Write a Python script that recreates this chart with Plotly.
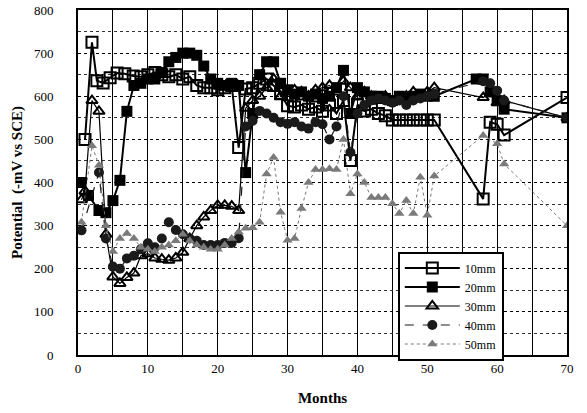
import plotly.graph_objects as go

# ---- data (months, potential -mV vs SCE) ----
m10 = [1, 2, 2.7, 3.6, 4.6, 5.6, 6.7, 7.9, 9, 10, 11, 12, 13, 14, 15, 16, 17, 18, 19, 20, 21, 22, 23,
       24, 25, 26, 27, 28, 29, 30, 31, 32, 33, 34, 35, 36, 37, 38, 39, 40, 41, 42, 43, 44, 45, 46,
       47, 48, 49, 50, 51, 58, 59, 60, 61, 70]
v10 = [500, 725, 636, 631, 643, 654, 652, 647, 645, 650, 655, 650, 645, 650, 640, 645, 625, 620, 620,
       615, 620, 625, 481, 617, 620, 630, 640, 625, 606, 578, 575, 580, 570, 575, 565, 580, 560, 590,
       451, 580, 566, 570, 560, 555, 545, 545, 545, 545, 545, 545, 545, 362, 540, 535, 510, 597]

m20 = [0.5, 1.5, 3, 4, 5, 6, 7, 8, 9, 10, 11, 12, 13, 14, 15, 16, 17, 18, 19, 20, 21, 22, 23, 24, 25,
       26, 27, 28, 29, 30, 31, 32, 33, 34, 35, 36, 37, 38, 39, 40, 41, 42, 43, 44, 45, 46, 47, 48, 49,
       50, 51, 57, 58, 59, 60, 61, 70]
v20 = [400, 370, 335, 330, 358, 405, 565, 625, 630, 640, 640, 655, 680, 690, 700, 700, 695, 670, 640,
       630, 625, 630, 625, 423, 560, 650, 680, 680, 630, 615, 605, 610, 600, 605, 595, 600, 620, 660,
       560, 620, 610, 600, 600, 595, 590, 600, 595, 600, 605, 600, 600, 640, 640, 610, 590, 570, 550]

m30 = [0.5, 1, 2, 3, 4, 5, 6, 7, 8, 9, 10, 11, 12, 13, 14, 15, 16, 17, 18, 19, 20, 21, 22, 23, 24,
       25, 26, 27, 28, 29, 30, 31, 32, 33, 34, 35, 36, 37, 38, 39, 40, 41, 42, 43, 44, 45, 46, 47,
       48, 49, 50, 51, 58, 59, 60, 61, 70]
v30 = [360, 380, 590, 565, 280, 181, 166, 180, 190, 230, 235, 225, 222, 220, 225, 238, 270, 300, 320,
       335, 347, 347, 345, 335, 572, 590, 600, 620, 640, 600, 610, 615, 610, 600, 615, 620, 625, 610,
       635, 620, 600, 610, 600, 590, 600, 590, 590, 600, 610, 600, 610, 620, 597, 610, 585, 590, 550]

m40 = [0.5, 3, 4, 5, 6, 7, 8, 9, 10, 11, 12, 13, 14, 15, 16, 17, 18, 19, 20, 21, 22, 23, 24, 25, 26,
       27, 28, 29, 30, 31, 32, 33, 34, 35, 36, 37, 38, 39, 40, 41, 42, 43, 44, 45, 46, 47, 48, 49, 50,
       51, 58, 59, 60, 61, 70]
v40 = [289, 423, 270, 205, 200, 224, 230, 245, 259, 250, 270, 308, 290, 280, 270, 265, 255, 255, 255,
       260, 260, 271, 530, 543, 566, 560, 550, 540, 536, 540, 530, 525, 540, 535, 500, 530, 600, 470,
       560, 580, 590, 595, 590, 585, 590, 580, 590, 595, 600, 605, 635, 630, 613, 590, 550]

m50 = [0.5, 2, 3, 4, 5, 6, 7, 8, 9, 10, 11, 12, 13, 14, 15, 16, 17, 18, 19, 20, 21, 22, 23, 24, 25,
       26, 27, 28, 29, 30, 31, 32, 33, 34, 35, 36, 37, 38, 39, 40, 41, 42, 43, 44, 45, 46, 47, 48, 49,
       50, 51, 58, 60, 61, 70]
v50 = [308, 485, 440, 300, 240, 270, 282, 270, 250, 245, 240, 250, 255, 265, 280, 265, 255, 250, 245,
       245, 255, 270, 285, 294, 295, 308, 420, 458, 331, 266, 270, 340, 400, 430, 430, 432, 430, 500,
       374, 420, 400, 365, 365, 365, 351, 328, 358, 328, 412, 324, 415, 509, 490, 443, 300]

names = ["10mm", "20mm", "30mm", "40mm", "50mm"]

FONT = "Liberation Serif, Times New Roman, serif"

fig = go.Figure()
styles = [
    dict(m=m10, v=v10, line=dict(color="black", width=2), marker=dict(symbol="square-open", size=11, color="black", line=dict(width=2))),
    dict(m=m20, v=v20, line=dict(color="black", width=2), marker=dict(symbol="square", size=11, color="black")),
    dict(m=m30, v=v30, line=dict(color="black", width=1.2), marker=dict(symbol="triangle-up-open", size=10, color="black", line=dict(width=2))),
    dict(m=m40, v=v40, line=dict(color="#1a1a1a", width=1.2, dash="dash"), marker=dict(symbol="circle", size=10, color="#1a1a1a")),
    dict(m=m50, v=v50, line=dict(color="#777777", width=1, dash="dot"), marker=dict(symbol="triangle-up", size=9, color="#7a7a7a")),
]
for name, s in zip(names, styles):
    fig.add_trace(go.Scatter(x=s["m"], y=s["v"], name=name, mode="lines+markers",
                             line=s["line"], marker=s["marker"]))

fig.update_layout(
    width=587, height=413,
    margin=dict(l=78, r=20, t=10, b=58, autoexpand=False),
    paper_bgcolor="white", plot_bgcolor="white",
    font=dict(family=FONT, color="black", size=13),
    legend=dict(x=0.654, y=0.3, xanchor="left", yanchor="top",
                bgcolor="white", bordercolor="black", borderwidth=2,
                font=dict(family=FONT, size=12), tracegroupgap=0,
                itemwidth=55),
    showlegend=True,
)
fig.update_xaxes(range=[0, 70], dtick=10, tick0=0, showline=True, linewidth=2, linecolor="black",
                 mirror=True, showgrid=True, gridcolor="black", gridwidth=1.2, griddash="solid",
                 minor=dict(dtick=5, showgrid=True, gridcolor="black", gridwidth=1.2, griddash="solid"),
                 ticks="", zeroline=False, automargin=False,
                 title=dict(text="<b>Months</b>", font=dict(family=FONT, size=15), standoff=18),
                 tickfont=dict(family=FONT, size=13))
fig.update_yaxes(range=[0, 800], dtick=100, tick0=0, showline=True, linewidth=2, linecolor="black",
                 mirror=True, showgrid=True, gridcolor="black", gridwidth=1, griddash="dot",
                 minor=dict(dtick=50, showgrid=True, gridcolor="#333333", gridwidth=1, griddash="dot"),
                 ticks="", zeroline=False, automargin=False, ticklabelstandoff=20,
                 title=dict(text="<b>Potential  (-mV vs SCE)</b>", font=dict(family=FONT, size=15), standoff=8),
                 tickfont=dict(family=FONT, size=13))

fig.write_html("out.html", config={"displayModeBar": False},
               post_script="document.body.style.margin='0';document.body.style.padding='0';")
